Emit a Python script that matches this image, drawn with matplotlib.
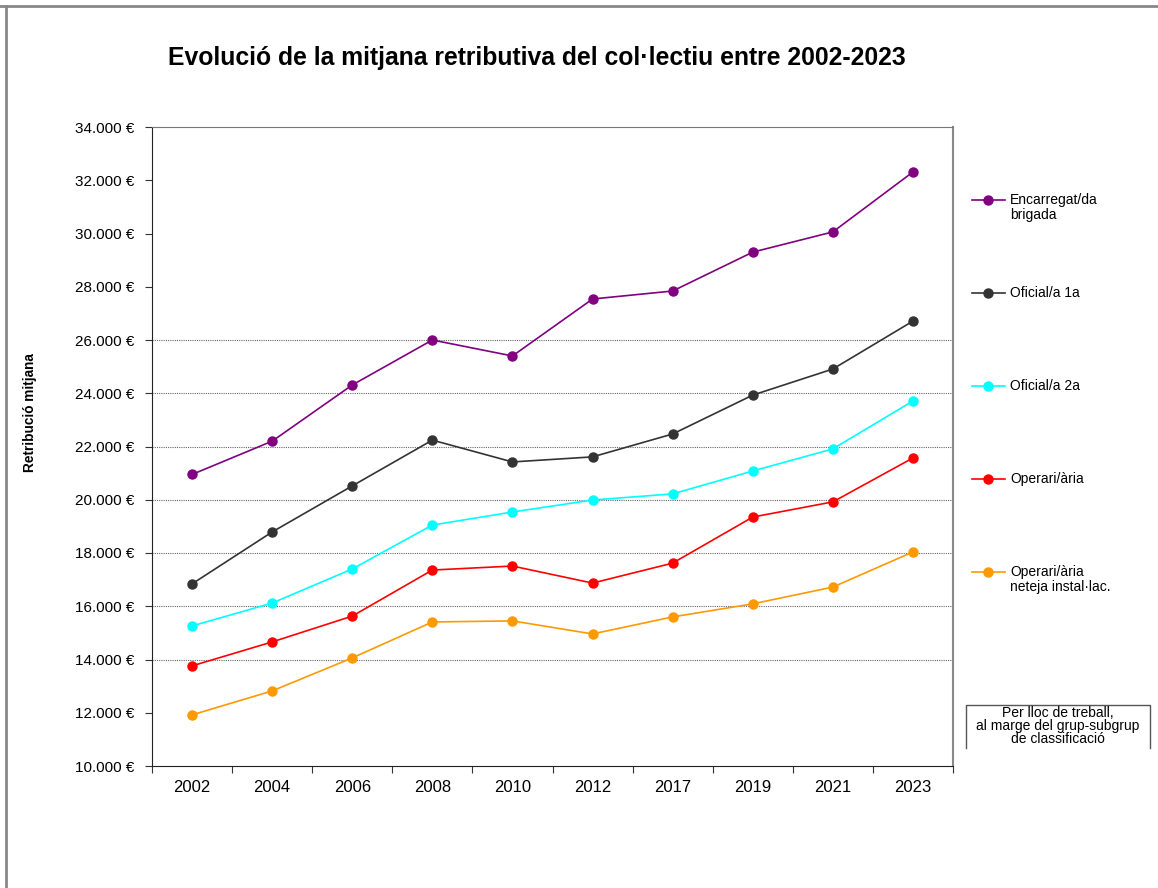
import matplotlib
matplotlib.use("Agg")
import matplotlib.pyplot as plt
from matplotlib.lines import Line2D
from matplotlib.ticker import FuncFormatter

plt.rcParams['font.family'] = ['Liberation Sans', 'DejaVu Sans']

# Data
years = ["2002", "2004", "2006", "2008", "2010", "2012", "2017", "2019", "2021", "2023"]
encarregat = [20950, 22200, 24310, 26000, 25400, 27540, 27840, 29300, 30060, 32310]
oficial1 = [16840, 18790, 20520, 22240, 21420, 21610, 22470, 23930, 24910, 26710]
oficial2 = [15260, 16120, 17400, 19050, 19540, 19990, 20220, 21080, 21910, 23710]
operari = [13760, 14660, 15630, 17360, 17510, 16870, 17620, 19350, 19920, 21570]
operari_neteja = [11920, 12820, 14060, 15410, 15450, 14960, 15600, 16090, 16720, 18040]

series_names = ["Encarregat/da\nbrigada", "Oficial/a 1a", "Oficial/a 2a",
                "Operari/ària", "Operari/ària\nneteja instal·lac."]
series_values = [encarregat, oficial1, oficial2, operari, operari_neteja]
colors = ["#800080", "#333333", "#00FFFF", "#FF0000", "#FF9900"]
grid_values = [14000, 16000, 18000, 20000, 22000, 24000, 26000]

W, H = 1158, 888


def fx(px):
    return px / W


def fy(py):
    return 1 - py / H


fig = plt.figure(figsize=(W / 100, H / 100), dpi=100)
ax = fig.add_axes([fx(152), fy(766), fx(953) - fx(152), fy(127) - fy(766)])

x = list(range(len(years)))
for vals, c in zip(series_values, colors):
    ax.plot(x, vals, color=c, linewidth=1.2, marker="o", markersize=6.5, zorder=3)

for g in grid_values:
    ax.axhline(g, color="#666666", linestyle=(0, (1, 1)), linewidth=0.8, zorder=1)

ax.set_xlim(-0.5, len(years) - 0.5)
ax.set_ylim(10000, 34000)
ax.set_yticks(range(10000, 34001, 2000))
ax.yaxis.set_major_formatter(FuncFormatter(lambda v, p: f"{int(v):,}".replace(",", ".") + " €"))
ax.tick_params(axis="y", direction="out", length=5, width=0.8, labelsize=11, pad=8, color="#333333")

ax.set_xticks(x)
ax.set_xticklabels(years)
ax.tick_params(axis="x", which="major", length=0, labelsize=12, pad=10)
ax.set_xticks([i - 0.5 for i in range(len(years) + 1)], minor=True)
ax.tick_params(axis="x", which="minor", direction="out", length=5, width=0.8, color="#333333")

ax.spines["left"].set_color("#222222")
ax.spines["bottom"].set_color("#222222")
ax.spines["top"].set_color("#777777")
ax.spines["right"].set_color("#888888")
ax.spines["right"].set_linewidth(1.5)

fig.text(fx(537), fy(58), "Evolució de la mitjana retributiva del col·lectiu entre 2002-2023",
         ha="center", va="center", fontsize=17.8, fontweight="bold")
fig.text(fx(30), fy(413), "Retribució mitjana", rotation=90, ha="center", va="center",
         fontsize=9.8, fontweight="bold")

# legend drawn by hand to match spacing
legend_y = [200, 293, 386, 479, 572]
for name, c, ly in zip(series_names, colors, legend_y):
    fig.add_artist(Line2D([fx(972), fx(1005)], [fy(ly), fy(ly)], color=c, linewidth=1.2))
    fig.add_artist(Line2D([fx(988)], [fy(ly)], color=c, marker="o", markersize=6.5))
    fig.text(fx(1010), fy(ly - 7), name, ha="left", va="top", fontsize=10, linespacing=1.1)

# note box
fig.add_artist(Line2D([fx(966), fx(966), fx(1150), fx(1150)], [fy(748), fy(705), fy(705), fy(748)],
                      color="#555555", linewidth=1.0))
fig.text(fx(1058), fy(726), "Per lloc de treball,\nal marge del grup-subgrup\nde classificació",
         ha="center", va="center", fontsize=10, linespacing=0.95)

# outer frame
fig.add_artist(Line2D([0, 1], [fy(6), fy(6)], color="#888888", linewidth=2))
fig.add_artist(Line2D([fx(6), fx(6)], [0, fy(6)], color="#888888", linewidth=2))

fig.savefig("out.png", dpi=100)
